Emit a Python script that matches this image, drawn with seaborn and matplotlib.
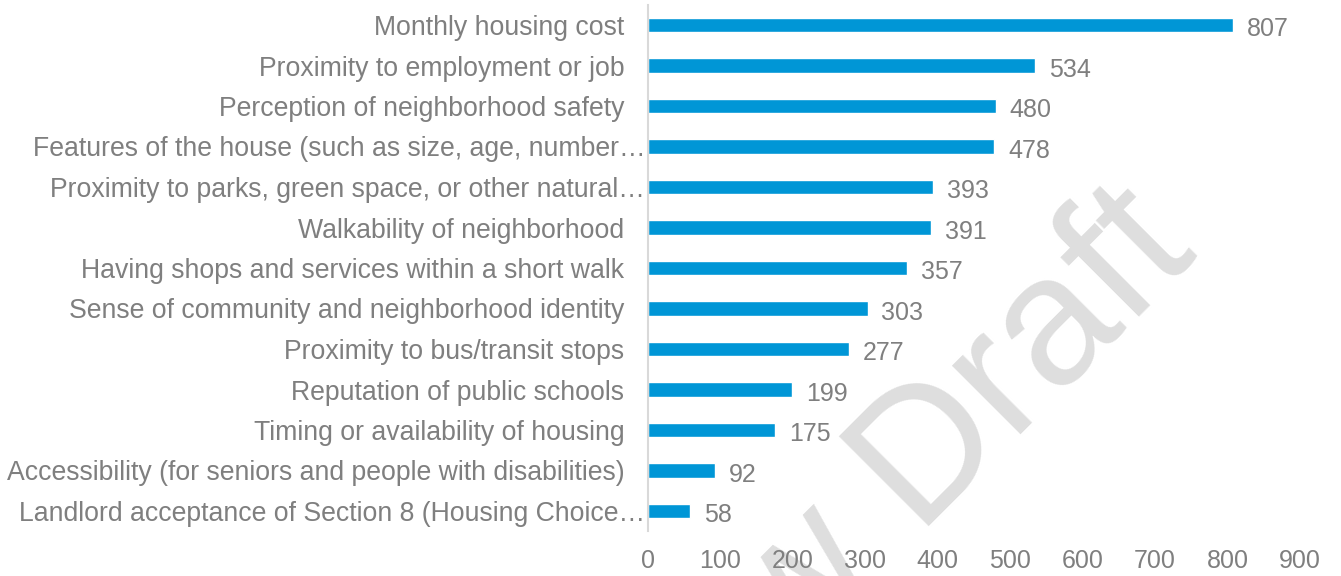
import matplotlib
matplotlib.use("Agg")
import matplotlib.pyplot as plt
import seaborn as sns
import pandas as pd

categories = [
    "Monthly housing cost",
    "Proximity to employment or job",
    "Perception of neighborhood safety",
    "Features of the house (such as size, age, number\u2026",
    "Proximity to parks, green space, or other natural\u2026",
    "Walkability of neighborhood",
    "Having shops and services within a short walk",
    "Sense of community and neighborhood identity",
    "Proximity to bus/transit stops",
    "Reputation of public schools",
    "Timing or availability of housing",
    "Accessibility (for seniors and people with disabilities)",
    "Landlord acceptance of Section 8 (Housing Choice\u2026",
]
values = [807, 534, 480, 478, 393, 391, 357, 303, 277, 199, 175, 92, 58]
x_ticks = [0, 100, 200, 300, 400, 500, 600, 700, 800, 900]
watermark = "Review Draft"

sns.set_theme(style="white")
plt.rcParams["font.family"] = ["Liberation Sans", "DejaVu Sans"]

BLUE = "#0096D6"
GRAY = "#7F7F7F"

df = pd.DataFrame({"category": categories, "value": values})

fig = plt.figure(figsize=(13.41, 5.76), dpi=100)
ax = fig.add_axes([648 / 1341, 1 - 531.25 / 576, (1300 - 648) / 1341, (531.25 - 4.75) / 576])
ax.patch.set_alpha(0)

sns.barplot(data=df, x="value", y="category", orient="h", color=BLUE,
            width=0.355, saturation=1, ax=ax)

ax.set_xlim(0, 900)
ax.set_xticks(x_ticks)
ax.set_xticklabels([str(t) for t in x_ticks])
ax.set_xlabel("")
ax.set_ylabel("")

for i, v in enumerate(values):
    ax.annotate(str(v), xy=(v, i), xytext=(10, -3.2), textcoords="offset points",
                ha="left", va="center", fontsize=18, color=GRAY)

ax.tick_params(axis="x", length=0, pad=13, labelsize=18, labelcolor=GRAY)
ax.tick_params(axis="y", length=0, pad=17, labelsize=19.2, labelcolor=GRAY)

for i, tick in enumerate(ax.yaxis.get_major_ticks()):
    if categories[i].endswith("\u2026"):
        tick.set_pad(2)

for s in ["top", "right", "bottom"]:
    ax.spines[s].set_visible(False)
ax.spines["left"].set_color("#D9D9D9")
ax.spines["left"].set_linewidth(1.5)

fig.text(1200 / 1341, 1 - 255 / 576, watermark, fontsize=132, color="#DEDEDE",
         rotation=45, rotation_mode="anchor", ha="right", va="baseline",
         zorder=-1)

fig.savefig("out.png", dpi=100)
